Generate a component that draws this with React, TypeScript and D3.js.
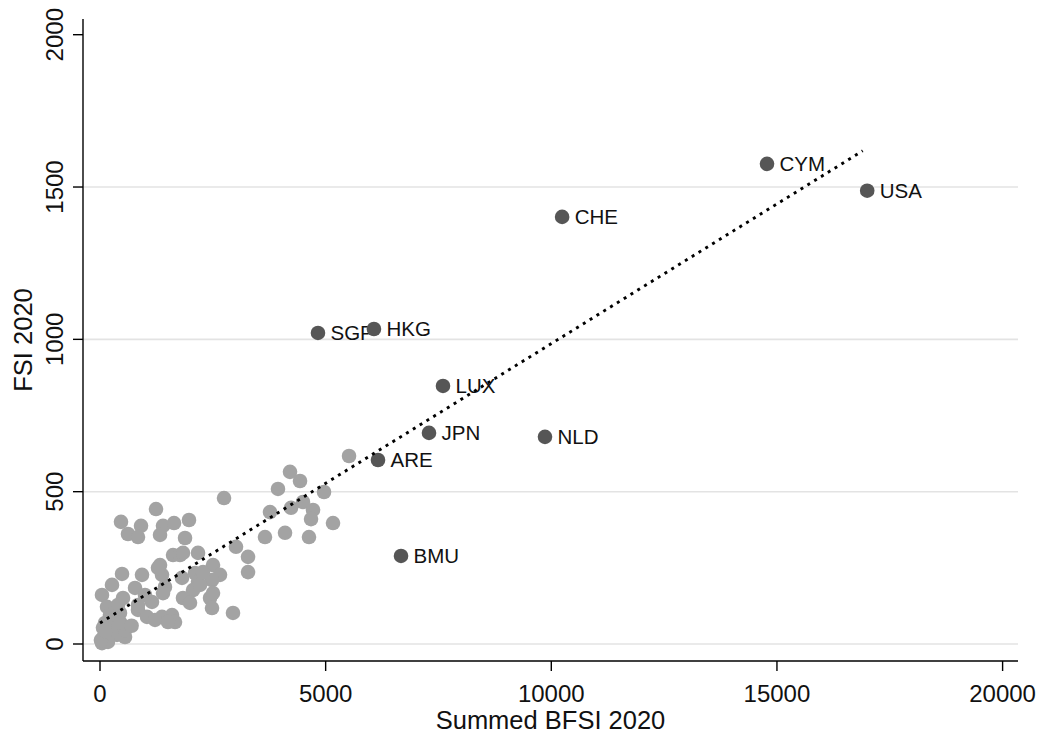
import React from "react";
import * as d3 from "d3";

const labeledNames = ["CYM", "USA", "CHE", "SGP", "HKG", "LUX", "JPN", "NLD", "ARE", "BMU"];
const labeledX = [14780, 17000, 10240, 4830, 6070, 7600, 7290, 9860, 6160, 6670];
const labeledY = [1576, 1488, 1402, 1021, 1034, 847, 693, 680, 604, 289];

const grayX = [
  5518, 4210, 4432, 3944, 2748, 4964, 4498, 4233, 4720, 3767, 4676, 5163, 3656, 4100, 4631,
  3014, 3280, 3280, 2947, 1241, 465, 909, 620, 842, 1396, 1330, 1640, 1972, 1884, 2172,
  1618, 1773, 1330, 1374, 931, 488, 266, 44, 776, 510, 155, 1440, 1817, 2105, 2172,
  2504, 2659, 2482, 2061, 1839, 1994, 2438, 2482, 1396, 1152, 842, 443, 1042, 1374, 1596,
  1662, 288, 554, 66, 66, 377, 554, 44, 1285, 997, 399, 842, 1507, 1219, 111,
  332, 554, 177, 20, 2504, 2216, 2283, 1839, 220, 130, 450, 700,
];
const grayY = [
  617, 565, 535, 509, 479, 499, 466, 447, 440, 433, 410, 397, 351, 365, 351,
  319, 286, 236, 102, 443, 401, 388, 361, 351, 388, 358, 397, 407, 348, 299,
  292, 292, 259, 227, 227, 230, 194, 161, 184, 151, 122, 187, 217, 233, 204,
  259, 227, 210, 177, 151, 135, 151, 118, 167, 138, 112, 102, 89, 89, 95,
  72, 69, 53, 53, 20, 30, 23, 3, 250, 161, 128, 128, 72, 79, 69,
  36, 46, 7, 13, 167, 194, 236, 299, 95, 40, 70, 60,
];

// Linear fit shown as the dotted line
const fitIntercept = 69;
const fitSlope = 0.0917;
const fitRange = [0, 16900];

const xTicks = [0, 5000, 10000, 15000, 20000];
const yTicks = [0, 500, 1000, 1500, 2000];
const gridValues = [0, 500, 1000, 1500];

export default function App() {
  const W = 1046;
  const H = 737;
  const left = 83;
  const right = 1018;
  const top = 19;
  const bottom = 661;
  const x = d3.scaleLinear().domain([0, 20000]).range([100, 1002.6]);
  const y = d3.scaleLinear().domain([0, 2000]).range([644, 34.7]);
  const font = "Arial, 'Liberation Sans', Helvetica, sans-serif";
  const r = 7.3;
  const lineGen = d3
    .line<number>()
    .x((v) => x(v))
    .y((v) => y(fitIntercept + fitSlope * v));

  return (
    <svg
      width={W}
      height={H}
      style={{ position: "absolute", left: 0, top: 0, background: "#fff" }}
      fontFamily={font}
    >
      <rect x={0} y={0} width={W} height={H} fill="#fff" />
      {gridValues.map((v) => (
        <line key={"g" + v} x1={left} x2={right} y1={y(v)} y2={y(v)} stroke="#e3e3e3" strokeWidth={1.6} />
      ))}
      {grayX.map((v, i) => (
        <circle key={"p" + i} cx={x(v)} cy={y(grayY[i])} r={r} fill="#a3a3a3" />
      ))}
      {labeledNames.map((n, i) => (
        <text
          key={"t" + n}
          x={x(labeledX[i]) + 12.5}
          y={y(labeledY[i])}
          dy="0.36em"
          fontSize={20.5}
          fill="#111"
        >
          {n}
        </text>
      ))}
      {labeledX.map((v, i) => (
        <circle key={"d" + i} cx={x(v)} cy={y(labeledY[i])} r={r} fill="#565656" />
      ))}
      <path
        d={lineGen(fitRange) || ""}
        fill="none"
        stroke="#000"
        strokeWidth={2.9}
        strokeDasharray="3 5"
      />
      {/* axes */}
      <line x1={left} x2={left} y1={top} y2={bottom} stroke="#000" strokeWidth={1.4} />
      <line x1={left} x2={right} y1={bottom} y2={bottom} stroke="#000" strokeWidth={1.4} />
      {yTicks.map((v) => (
        <g key={"yt" + v}>
          <line x1={left - 10} x2={left} y1={y(v)} y2={y(v)} stroke="#000" strokeWidth={1.4} />
          <text
            transform={`translate(63,${y(v)}) rotate(-90)`}
            textAnchor="middle"
            fontSize={24}
            fill="#111"
          >
            {v}
          </text>
        </g>
      ))}
      {xTicks.map((v) => (
        <g key={"xt" + v}>
          <line x1={x(v)} x2={x(v)} y1={bottom} y2={bottom + 10} stroke="#000" strokeWidth={1.4} />
          <text x={x(v)} y={702} textAnchor="middle" fontSize={24} fill="#111">
            {v}
          </text>
        </g>
      ))}
      <text x={(left + right) / 2} y={729} textAnchor="middle" fontSize={25.5} fill="#111">
        Summed BFSI 2020
      </text>
      <text
        transform={`translate(32,${(top + bottom) / 2}) rotate(-90)`}
        textAnchor="middle"
        fontSize={25.5}
        fill="#111"
      >
        FSI 2020
      </text>
    </svg>
  );
}
